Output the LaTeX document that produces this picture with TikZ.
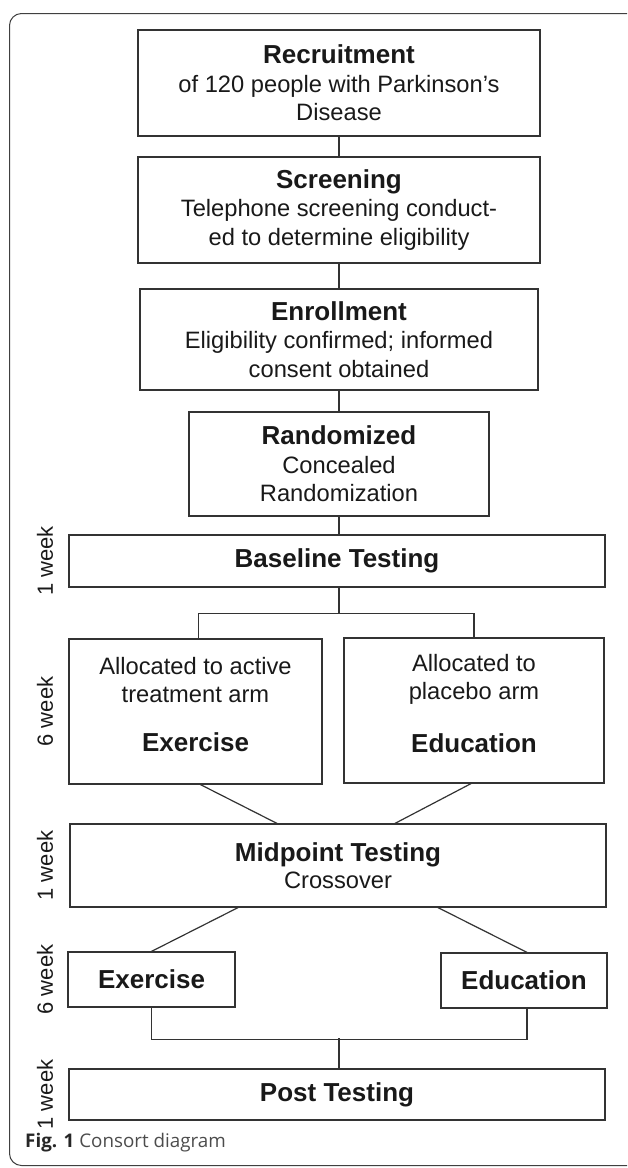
\documentclass[tikz,border=0pt]{standalone}
\usepackage{fontspec}
\setmainfont{Liberation Sans}
\newfontfamily\capfont{Open Sans}
\usetikzlibrary{calc}
\definecolor{boxgray}{HTML}{333333}
\newcommand\boxhead[1]{{\fontsize{26}{28.5}\selectfont\bfseries #1}}
\begin{document}
\begin{tikzpicture}[x=1pt,y=-1pt,
		box/.style={draw=boxgray,line width=1.2pt,align=center,inner sep=0pt,text=black!90,
			font=\fontsize{23.7}{28.5}\selectfont},
		link/.style={draw=boxgray,line width=1.2pt},
		wk/.style={rotate=90,inner sep=0pt,text=black!90,font=\fontsize{22}{22}\selectfont}]
		\useasboundingbox (0,0) rectangle (627,1168);
		\clip (0,0) rectangle (627,1168);
		\draw[line width=1pt,draw=black!75,rounded corners=12pt] (9.5,13.5) rectangle (640,1165.5);
		% upper chain
		\node[box,minimum width=402pt,minimum height=106pt] (recruit) at (339,83)
			{\boxhead{Recruitment}\\of 120 people with Parkinson’s\\Disease};
		\node[box,minimum width=402pt,minimum height=106pt] (screen) at (339,210)
			{\boxhead{Screening}\\Telephone screening conduct-\\ed to determine eligibility};
		\node[box,minimum width=398pt,minimum height=101pt] (enroll) at (339,339.5)
			{\boxhead{Enrollment}\\Eligibility confirmed; informed\\consent obtained};
		\node[box,minimum width=300pt,minimum height=104pt] (random) at (339,464)
			{\boxhead{Randomized}\\Concealed\\Randomization};
		\node[box,minimum width=536pt,minimum height=52pt] (base) at (337,561) {\boxhead{Baseline Testing}};
		% first period
		\node[box,minimum width=253pt,minimum height=145pt] (exer1) at (195.5,711.5)
			{Allocated to active\\treatment arm\\[20pt]\boxhead{Exercise}\\[-14pt]\mbox{}};
		\node[box,minimum width=260pt,minimum height=145pt] (edu1) at (474,710.5)
			{Allocated to\\placebo arm\\[24pt]\boxhead{Education}\\[-14pt]\mbox{}};
		\node[box,minimum width=536pt,minimum height=83pt] (mid) at (338,865.5)
			{\boxhead{Midpoint Testing}\\[-2pt]Crossover};
		% second period
		\node[box,minimum width=167pt,minimum height=55pt] (exer2) at (151.5,979.5) {\boxhead{Exercise}};
		\node[box,minimum width=166pt,minimum height=55pt] (edu2) at (524,980.5) {\boxhead{Education}};
		\node[box,minimum width=536pt,minimum height=51pt] (post) at (337,1094.5) {\boxhead{Post Testing}};
		% time labels
		\coordinate (wkx) at (45,0);
		\node[wk] (wk1) at (base -| wkx) {1 week};
		\node[wk] (wk2) at (exer1 -| wkx) {6 week};
		\node[wk] (wk3) at (mid -| wkx) {1 week};
		\node[wk] (wk4) at (exer2 -| wkx) {6 week};
		\node[wk] (wk5) at (post -| wkx) {1 week};
		% connectors
		\draw[link] (recruit) -- (screen);
		\draw[link] (screen) -- (enroll);
		\draw[link] (enroll) -- (random);
		\draw[link] (random) -- (random |- base.north);
		\draw[link] (base.south -| random) -- ++(0,26) coordinate (split);
		\draw[link] (split) -| ($(exer1.north)+(3,0)$);
		\draw[link] (split) -| (edu1.north);
		\draw[link] ($(exer1.south)+(5,0)$) -- ($(mid.north)+(-61,0)$);
		\draw[link] ($(edu1.south)+(-3,0)$) -- ($(mid.north)+(57,0)$);
		\draw[link] ($(mid.south)+(-100,0)$) -- (exer2.north);
		\draw[link] ($(mid.south)+(100,0)$) -- ($(edu2.north)+(3,0)$);
		\draw[link] (exer2.south) -- ++(0,32) -| ($(edu2.south)+(3,0)$);
		\draw[link] (post.north -| random) -- ++(0,-30);
		% caption
		\node[anchor=base west,inner sep=0pt,text=black!85,font=\capfont\fontsize{18.8}{18.8}\selectfont] (cap)
			at (25,1147) {\textbf{Fig. 1} {\color{black!70}Consort diagram}};
\end{tikzpicture}
\end{document}
